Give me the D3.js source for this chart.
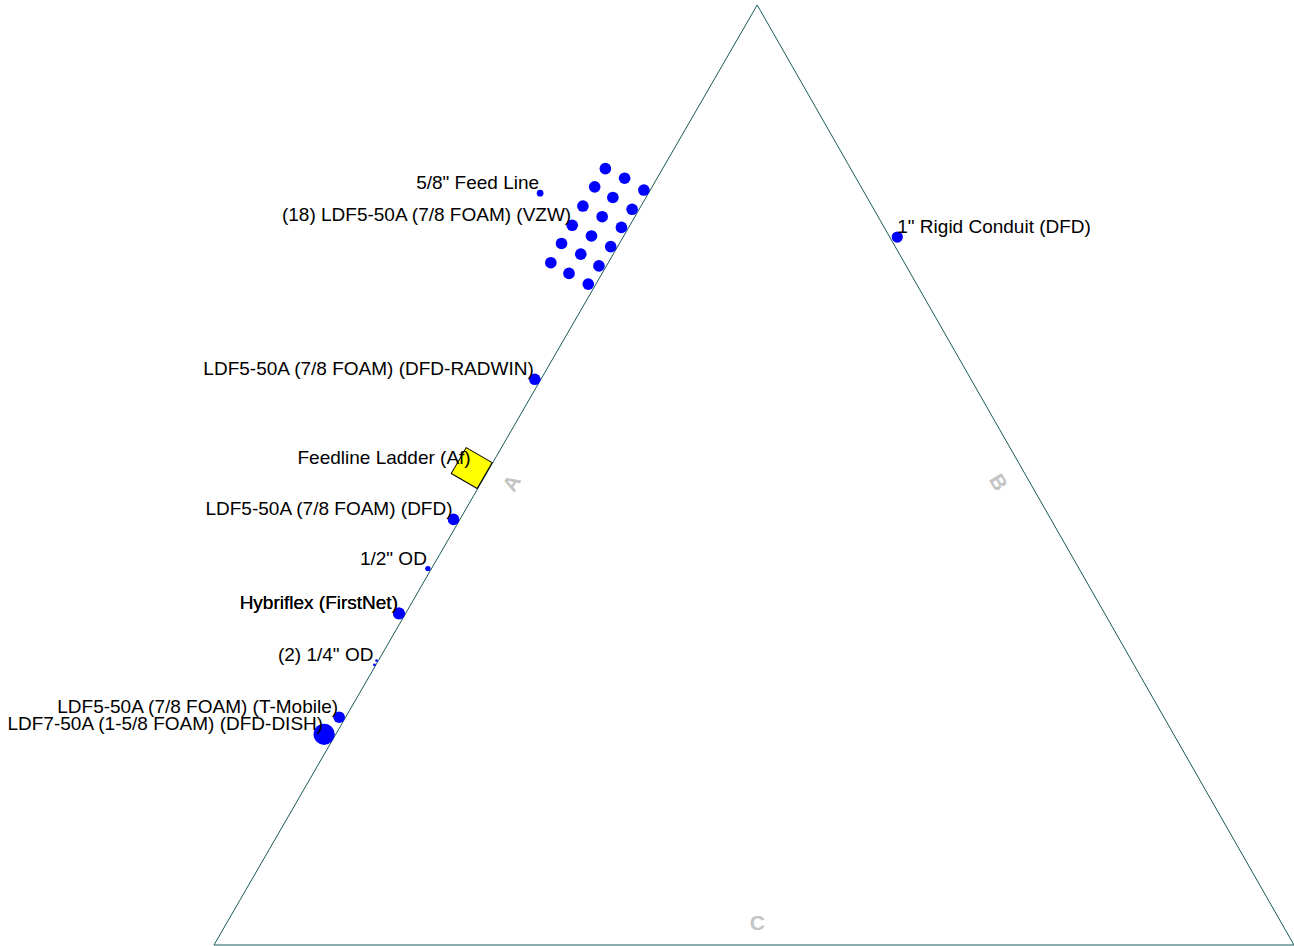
<!DOCTYPE html>
<html>
<head>
<meta charset="utf-8">
<script src="https://cdn.jsdelivr.net/npm/d3@7"></script>
<style>
  html, body { margin: 0; padding: 0; background: #ffffff; overflow: hidden; }
  svg { display: block; }
</style>
</head>
<body>
<svg id="plan" width="1294" height="946"></svg>
<script>
// Triangular tower plan, dimensions in inches
const faceWidth = 101;
const planHeight = 87.9;
const towerCorners = [[0, 0], [50.8, 87.9], [101, 0]];

// Face letters: name, centre position (in), rotation (deg)
const faceNames = ["A", "B", "C"];
const faceLabelPos = [[27.8, 43.2], [73.4, 43.3], [50.8, 2.1]];
const faceLabelRotation = [-60, 60, 0];

// Single feed lines: name, outside diameter (in), position (in), label side
const feedLines = [
  { name: '5/8" Feed Line',                   od: 0.625, x: 30.5, y: 70.3, side: "left",  labelled: true },
  { name: '1" Rigid Conduit (DFD)',           od: 1.05,  x: 63.9, y: 66.2, side: "right", labelled: true },
  { name: "LDF5-50A (7/8 FOAM) (DFD-RADWIN)", od: 1.09,  x: 30.0, y: 52.9, side: "left",  labelled: true },
  { name: "LDF5-50A (7/8 FOAM) (DFD)",        od: 1.09,  x: 22.4, y: 39.8, side: "left",  labelled: true },
  { name: '1/2" OD',                          od: 0.5,   x: 20.0, y: 35.2, side: "left",  labelled: true },
  { name: "Hybriflex (FirstNet)",             od: 1.1,   x: 17.3, y: 31.0, side: "left",  labelled: true },
  { name: "Hybriflex (FirstNet)",             od: 1.1,   x: 17.3, y: 31.0, side: "left",  labelled: true },
  { name: '(2) 1/4" OD',                      od: 0.25,  x: 15.2, y: 26.6, side: "left",  labelled: false },
  { name: '(2) 1/4" OD',                      od: 0.25,  x: 15.0, y: 26.2, side: "left",  labelled: true },
  { name: "LDF5-50A (7/8 FOAM) (T-Mobile)",   od: 1.09,  x: 11.7, y: 21.3, side: "left",  labelled: true },
  { name: "LDF7-50A (1-5/8 FOAM) (DFD-DISH)", od: 1.98,  x: 10.3, y: 19.7, side: "left",  labelled: true }
];

// Verizon bundle of 18 LDF5-50A lines (positions in inches)
const vzwName = "(18) LDF5-50A (7/8 FOAM) (VZW)";
const vzwOd = 1.09;
const vzwBundle = [
  [36.6, 72.6], [38.4, 71.7], [40.2, 70.6],
  [35.6, 70.9], [37.3, 69.9], [39.1, 68.8],
  [34.5, 69.1], [36.3, 68.1], [38.1, 67.1],
  [33.5, 67.3], [35.3, 66.3], [37.1, 65.3],
  [32.5, 65.6], [34.3, 64.6], [36.0, 63.5],
  [31.5, 63.8], [33.2, 62.8], [35.0, 61.8]
];
const vzwLabelIndex = 9;

// Feedline ladder mounted on face A
const ladderName = "Feedline Ladder (Af)";
const ladderCentre = [24.1, 44.6];
const ladderSize = 2.8;

const svg = d3.select("#plan");
const x = d3.scaleLinear().domain([0, faceWidth]).range([214, 1294]);
const y = d3.scaleLinear().domain([0, planHeight]).range([945, 5]);
const pxPerIn = x(1) - x(0);
const faceAngle = Math.atan2(y(towerCorners[1][1]) - y(towerCorners[0][1]),
                             x(towerCorners[1][0]) - x(towerCorners[0][0])) * 180 / Math.PI;

const font = "'Liberation Sans', Arial, Helvetica, sans-serif";

// Tower outline
svg.append("path")
  .attr("d", d3.line().x(d => x(d[0])).y(d => y(d[1]))(towerCorners) + "Z")
  .attr("fill", "none")
  .attr("stroke", "#1a5a5a")
  .attr("stroke-width", 1);

// Face letters
svg.append("g").selectAll("text")
  .data(faceNames)
  .join("text")
  .attr("transform", (d, i) => `translate(${x(faceLabelPos[i][0])},${y(faceLabelPos[i][1])}) rotate(${faceLabelRotation[i]})`)
  .attr("text-anchor", "middle")
  .attr("dy", "0.36em")
  .attr("font-family", font)
  .attr("font-weight", "bold")
  .attr("font-size", 21)
  .attr("fill", "#c4c4c4")
  .text(d => d);

// Ladder, one edge on face A
const side = ladderSize * pxPerIn;
svg.append("rect")
  .attr("transform", `translate(${x(ladderCentre[0])},${y(ladderCentre[1])}) rotate(${faceAngle})`)
  .attr("x", -side / 2).attr("y", -side / 2)
  .attr("width", side).attr("height", side)
  .attr("fill", "#ffff00")
  .attr("stroke", "#000000")
  .attr("stroke-width", 1);

// Feed line sections
const dots = svg.append("g").attr("fill", "#0000ff");
dots.selectAll("circle.vzw")
  .data(vzwBundle)
  .join("circle")
  .attr("class", "vzw")
  .attr("cx", d => x(d[0]))
  .attr("cy", d => y(d[1]))
  .attr("r", vzwOd / 2 * pxPerIn);
dots.selectAll("circle.line")
  .data(feedLines)
  .join("circle")
  .attr("class", "line")
  .attr("cx", d => x(d.x))
  .attr("cy", d => y(d.y))
  .attr("r", d => d.od / 2 * pxPerIn);

// Labels
const labels = [
  ...feedLines.filter(d => d.labelled).map(d => ({ name: d.name, x: d.x, y: d.y, side: d.side })),
  { name: vzwName, x: vzwBundle[vzwLabelIndex][0], y: vzwBundle[vzwLabelIndex][1], side: "left" },
  { name: ladderName, x: ladderCentre[0], y: ladderCentre[1], side: "left" }
];
svg.append("g").selectAll("text")
  .data(labels)
  .join("text")
  .attr("x", d => x(d.x) + (d.side === "left" ? -1 : 0))
  .attr("y", d => y(d.y) - 4)
  .attr("text-anchor", d => d.side === "left" ? "end" : "start")
  .attr("font-family", font)
  .attr("font-size", 19)
  .attr("fill", "#000000")
  .text(d => d.name);
</script>
</body>
</html>
